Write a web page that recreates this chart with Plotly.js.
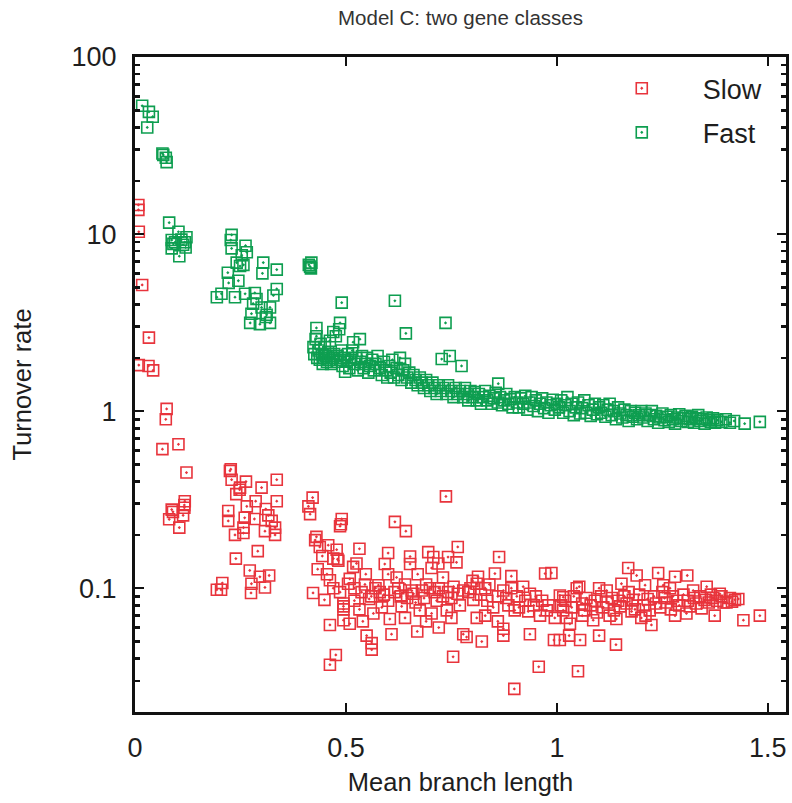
<!DOCTYPE html>
<html>
<head>
<meta charset="utf-8">
<script src="https://cdn.plot.ly/plotly-3.0.1.min.js"></script>
<style>html,body{margin:0;padding:0;background:#fff;}#chart{width:792px;height:803px;}</style>
</head>
<body>
<div id="chart"></div>
<script>
// ---- data ----
const slowX = [
0.008,0.008,0.009,0.017,0.033,0.009,0.032,0.043,0.075,0.073,
0.065,0.103,0.122,0.118,0.117,0.117,0.087,0.090,0.081,0.114,0.105,
0.227,0.225,0.229,0.263,0.249,0.248,0.300,0.336,0.336,0.286,0.265,0.221,0.221,0.283,0.316,0.310,0.324,0.332,0.332,0.308,0.257,0.237,0.257,0.291,0.239,0.272,0.296,0.318,0.276,0.308,0.275,0.207,0.194,0.204,0.260,0.240,
0.421,0.411,0.415,0.490,0.486,0.488,0.430,0.427,0.438,0.458,0.478,0.444,0.470,0.480,0.482,0.433,0.462,0.422,0.449,0.486,0.494,0.494,0.505,0.517,0.462,0.476,0.462,0.494,0.494,0.509,0.509,0.455,0.470,
0.616,0.642,0.737,0.532,0.600,0.592,0.652,0.652,0.695,0.707,0.719,0.703,0.742,0.765,0.762,0.863,0.525,0.547,0.537,0.577,0.580,0.555,0.532,0.565,0.604,0.549,0.561,0.561,0.608,0.624,0.632,0.656,0.675,0.669,0.703,0.699,0.739,0.742,0.754,0.778,0.786,0.778,0.810,0.813,0.802,0.822,0.810,0.853,0.873,0.849,0.873,0.873,0.899,0.892,0.892,0.920,0.936,0.932,0.936,0.957,0.972,0.987,0.976,0.993,1.015,1.015,
0.520,0.545,0.560,0.570,0.590,0.600,0.615,0.630,0.640,0.645,0.660,0.665,0.680,0.685,0.690,0.710,0.715,0.720,0.730,0.750,0.755,0.765,0.770,0.790,0.795,0.820,0.830,0.835,0.840,0.860,0.880,0.885,0.905,0.910,0.925,0.945,0.950,0.960,0.965,0.980,0.995,0.600,0.620,0.670,0.730,0.800,0.900,0.520,0.540,0.585,0.640,0.690,0.750,0.830,0.860,0.720,
1.169,1.189,1.240,1.280,1.309,1.153,1.209,1.252,1.047,1.053,1.118,1.007,1.422,1.374,1.442,1.481,1.029,1.055,1.100,1.140,1.050,1.007,1.224,1.200,1.177,1.141,1.086,1.023,1.031,1.307,1.343,1.402,1.355,1.386,1.323,1.268,
1.010,1.020,1.035,1.040,1.060,1.065,1.070,1.080,1.090,1.095,1.105,1.110,1.120,1.130,1.135,1.145,1.150,1.160,1.165,1.180,1.185,1.195,1.205,1.215,1.220,1.230,1.235,1.245,1.255,1.260,1.270,1.275,1.285,1.290,1.300,1.310,1.315,1.325,1.330,1.340,1.350,1.360,1.365,1.370,1.380,1.390,1.395,1.410,1.415,1.430,1.100,1.170,1.250,1.210,1.280,1.060,1.125
];
const slowY = [
14.6,13.7,10.3,5.16,2.6,1.82,1.8,1.7,1.03,0.9,
0.61,0.65,0.45,0.31,0.295,0.285,0.278,0.27,0.245,0.258,0.22,
0.47,0.46,0.41,0.40,0.37,0.36,0.37,0.41,0.31,0.31,0.29,0.273,0.24,0.246,0.258,0.28,0.24,0.22,0.20,0.21,0.22,0.20,0.205,0.162,0.147,0.126,0.116,0.118,0.106,0.101,0.094,0.107,0.098,0.098,0.25,0.34,
0.325,0.29,0.262,0.246,0.224,0.23,0.195,0.187,0.171,0.175,0.165,0.152,0.147,0.146,0.143,0.128,0.111,0.094,0.086,0.095,0.082,0.076,0.106,0.132,0.062,0.042,0.037,0.079,0.066,0.063,0.113,0.12,0.10,
0.237,0.21,0.33,0.167,0.158,0.137,0.151,0.137,0.16,0.15,0.138,0.13,0.15,0.171,0.14,0.15,0.138,0.12,0.095,0.104,0.095,0.087,0.076,0.072,0.067,0.054,0.049,0.045,0.055,0.10,0.079,0.097,0.075,0.057,0.072,0.10,0.075,0.095,0.041,0.055,0.053,0.097,0.106,0.116,0.086,0.05,0.068,0.121,0.097,0.078,0.059,0.054,0.027,0.117,0.10,0.102,0.093,0.074,0.055,0.036,0.121,0.122,0.075,0.051,0.089,0.075,
0.10,0.105,0.09,0.10,0.092,0.085,0.095,0.09,0.105,0.088,0.093,0.083,0.097,0.088,0.105,0.095,0.085,0.10,0.09,0.088,0.102,0.093,0.08,0.095,0.10,0.092,0.10,0.085,0.105,0.09,0.088,0.08,0.09,0.078,0.085,0.08,0.09,0.07,0.085,0.08,0.068,0.12,0.115,0.12,0.115,0.11,0.075,0.085,0.065,0.078,0.068,0.065,0.068,0.07,0.065,0.06,
0.13,0.118,0.122,0.116,0.118,0.106,0.104,0.104,0.10,0.102,0.097,0.091,0.086,0.07,0.066,0.07,0.054,0.051,0.054,0.048,0.034,0.051,0.062,0.068,0.074,0.067,0.066,0.068,0.063,0.072,0.077,0.083,0.102,0.093,0.097,0.10,
0.08,0.085,0.078,0.09,0.082,0.075,0.088,0.08,0.085,0.073,0.09,0.078,0.083,0.088,0.075,0.085,0.079,0.09,0.082,0.086,0.076,0.092,0.08,0.087,0.075,0.09,0.082,0.078,0.088,0.083,0.076,0.09,0.085,0.08,0.092,0.085,0.079,0.088,0.082,0.09,0.086,0.083,0.092,0.088,0.085,0.09,0.083,0.088,0.084,0.087,0.10,0.095,0.095,0.07,0.07,0.07,0.07
];
const fastX = [
0.017,0.033,0.042,0.029,0.065,0.067,0.073,0.075,
0.081,0.103,0.087,0.122,0.114,0.105,0.087,0.118,0.091,0.110,0.120,0.095,
0.229,0.227,0.229,0.262,0.265,0.253,0.241,0.257,0.249,0.304,0.302,0.336,0.220,0.222,0.245,0.194,0.205,0.237,0.261,0.284,0.288,0.336,0.328,0.280,0.300,0.320,0.276,0.312,0.273,0.296,0.320,0.310,
0.415,0.417,0.412,0.418,
0.423,0.425,0.428,0.430,0.430,0.432,0.435,0.438,0.440,0.443,0.445,0.448,0.450,0.452,0.455,0.458,0.460,0.462,0.465,0.468,0.470,0.472,0.476,0.478,0.480,0.484,0.486,0.488,0.490,0.492,0.495,0.498,0.490,
0.502,0.505,0.508,0.512,0.515,0.517,0.520,0.524,0.528,0.533,0.535,0.538,0.542,0.546,0.550,0.553,0.557,0.562,0.566,0.570,0.575,0.580,0.585,0.590,0.595,0.598,
0.602,0.606,0.610,0.614,0.616,0.620,0.624,0.628,0.632,0.636,0.640,0.642,0.645,0.650,0.655,0.660,0.665,0.670,0.675,0.680,0.685,0.690,0.695,0.700,
0.705,0.710,0.715,0.720,0.725,0.727,0.730,0.736,0.738,0.742,0.746,0.750,0.755,0.760,0.765,0.770,0.774,0.778,0.782,0.786,0.790,0.795,
0.800,0.805,0.810,0.815,0.820,0.825,0.830,0.835,0.840,0.845,0.850,0.855,0.860,0.861,0.865,0.870,0.875,0.880,0.885,0.890,0.895,0.900,
0.905,0.910,0.915,0.920,0.925,0.930,0.935,0.940,0.945,0.950,0.955,0.960,0.965,0.970,0.975,0.980,0.985,0.990,0.995,1.000,
1.005,1.010,1.015,1.020,1.025,1.030,1.035,1.040,1.045,1.050,1.055,1.060,1.065,1.070,1.075,1.080,1.085,1.090,1.095,1.100,
1.105,1.110,1.115,1.120,1.125,1.130,1.135,1.140,1.145,1.150,1.155,1.160,1.165,1.170,1.175,1.180,1.185,1.190,1.195,1.200,
1.205,1.210,1.215,1.220,1.225,1.230,1.235,1.240,1.245,1.250,1.255,1.260,1.265,1.270,1.275,1.280,1.285,1.290,1.295,1.300,
1.305,1.310,1.315,1.320,1.325,1.330,1.335,1.340,1.345,1.350,1.355,1.360,1.365,1.370,1.375,1.380,1.390,1.400,1.410,1.420,1.445,1.481
];
const fastY = [
53,49,46,40,28.5,28,27,25.5,
11.6,10.3,9.25,9.6,8.7,7.5,8.3,9.0,8.8,9.3,8.4,9.0,
9.9,9.25,8.3,8.6,7.9,7.6,6.9,6.7,6.6,6.9,6.0,6.3,6.05,5.3,5.45,4.4,4.6,4.4,4.6,4.65,4.3,4.9,4.5,4.05,3.85,3.85,3.55,3.5,3.15,3.1,3.15,3.4,
6.55,6.4,6.7,6.9,
2.3,2.1,2.55,2.95,2.65,2.0,2.2,1.95,2.4,2.1,1.85,2.0,2.3,2.05,1.9,2.15,1.95,2.5,1.85,2.0,2.8,2.1,2.65,1.9,2.05,2.9,3.15,1.95,2.2,1.8,2.0,1.67,4.1,
1.9,2.1,1.75,1.95,2.2,2.45,1.85,2.0,1.7,2.55,1.9,2.05,1.75,1.85,2.0,1.65,1.8,1.95,1.7,1.85,2.05,1.75,1.6,1.9,1.7,1.55,
1.8,1.65,1.95,1.55,4.2,1.75,1.6,2.0,1.5,1.7,1.85,2.75,1.55,1.65,1.45,1.6,1.5,1.4,1.55,1.45,1.35,1.5,1.4,1.3,
1.45,1.35,1.25,1.4,1.3,1.97,1.35,3.15,1.25,1.4,2.05,1.3,1.2,1.35,1.25,1.3,1.8,1.2,1.35,1.25,1.15,1.3,
1.2,1.28,1.15,1.25,1.1,1.2,1.3,1.15,1.22,1.1,1.18,1.27,1.12,1.43,1.2,1.08,1.15,1.25,1.1,1.17,1.05,1.2,
1.12,1.05,1.18,1.1,1.22,1.02,1.12,1.2,1.07,1.15,1.0,1.1,1.18,1.04,1.12,0.98,1.08,1.16,1.02,1.1,
1.05,1.15,0.98,1.08,1.2,1.0,1.1,0.95,1.05,1.12,0.97,1.04,1.15,0.98,1.08,0.94,1.02,1.1,0.96,1.05,
0.98,1.08,0.93,1.02,1.1,0.95,1.0,0.9,1.05,0.97,0.92,1.02,0.95,0.88,1.0,0.93,0.98,0.9,0.95,1.0,
0.92,0.97,0.88,0.95,1.0,0.9,0.94,0.86,0.92,0.97,0.89,0.93,0.87,0.95,0.9,0.85,0.92,0.96,0.88,0.91,
0.94,0.87,0.9,0.93,0.86,0.91,0.95,0.88,0.9,0.85,0.92,0.89,0.87,0.91,0.86,0.89,0.87,0.9,0.86,0.88,0.85,0.87
];
const xTickVals = [0, 0.5, 1, 1.5];
const xTickText = ['0', '0.5', '1', '1.5'];
const yTickVals = [0.1, 1, 10, 100];
const yTickText = ['0.1', '1', '10', '100'];
const yMinorVals = [0.02,0.03,0.04,0.05,0.06,0.07,0.08,0.09,0.2,0.3,0.4,0.5,0.6,0.7,0.8,0.9,2,3,4,5,6,7,8,9,20,30,40,50,60,70,80,90];
const seriesNames = ['Slow', 'Fast'];

const RED = 'rgb(232,52,60)';
const GREEN = 'rgb(14,158,80)';
const FONT = 'Liberation Sans, Arial, Helvetica, sans-serif';
const TXT = '#1e1e1e';

function mk(color) {
  return {symbol: 'square-open-dot', size: 11, color: color, line: {color: color, width: 1.6}};
}

const traces = [
  {x: slowX, y: slowY, type: 'scatter', mode: 'markers', name: seriesNames[0], legendgroup: 'a', marker: mk(RED), cliponaxis: true},
  {x: fastX, y: fastY, type: 'scatter', mode: 'markers', name: seriesNames[1], legendgroup: 'b', marker: mk(GREEN), cliponaxis: true}
];

const layout = {
  width: 792, height: 803,
  paper_bgcolor: '#fff', plot_bgcolor: '#fff',
  margin: {l: 135, r: 6, t: 57, b: 91, pad: 0},
  font: {family: FONT, size: 25, color: TXT},
  title: {text: 'Model C: two gene classes', font: {family: FONT, size: 20.5, color: '#333'}, x: 0.5, xref: 'paper', y: 0.978, yanchor: 'middle'},
  showlegend: true,
  legend: {x: 0.972, xanchor: 'right', y: 0.989, yanchor: 'top', bgcolor: 'rgba(0,0,0,0)', borderwidth: 0,
           font: {family: FONT, size: 27, color: TXT}, itemwidth: 112, traceorder: 'grouped', tracegroupgap: 6},
  xaxis: {
    range: [0, 1.543], tickmode: 'array', tickvals: xTickVals, ticktext: xTickText,
    ticks: 'inside', ticklen: 9, tickwidth: 2.5, tickcolor: '#111',
    showline: true, linewidth: 3, linecolor: '#111', mirror: 'ticks',
    showgrid: false, zeroline: false, ticklabelstandoff: 10,
    tickfont: {family: FONT, size: 27, color: TXT},
    title: {text: 'Mean branch length', font: {family: FONT, size: 25.5, color: TXT}, standoff: 11}
  },
  yaxis: {
    type: 'log', range: [Math.log10(0.02), 2], tickmode: 'array', tickvals: yTickVals, ticktext: yTickText,
    ticks: 'inside', ticklen: 9, tickwidth: 2.5, tickcolor: '#111',
    minor: {tickmode: 'array', tickvals: yMinorVals, ticks: 'inside', ticklen: 5, tickwidth: 2.5, tickcolor: '#111', showgrid: false},
    showline: true, linewidth: 3, linecolor: '#111', mirror: 'ticks',
    showgrid: false, zeroline: false, ticklabelstandoff: 10,
    tickfont: {family: FONT, size: 27, color: TXT},
    title: {text: 'Turnover rate', font: {family: FONT, size: 25.5, color: TXT}, standoff: 33}
  }
};

Plotly.newPlot('chart', traces, layout, {displayModeBar: false, staticPlot: true});
</script>
</body>
</html>
